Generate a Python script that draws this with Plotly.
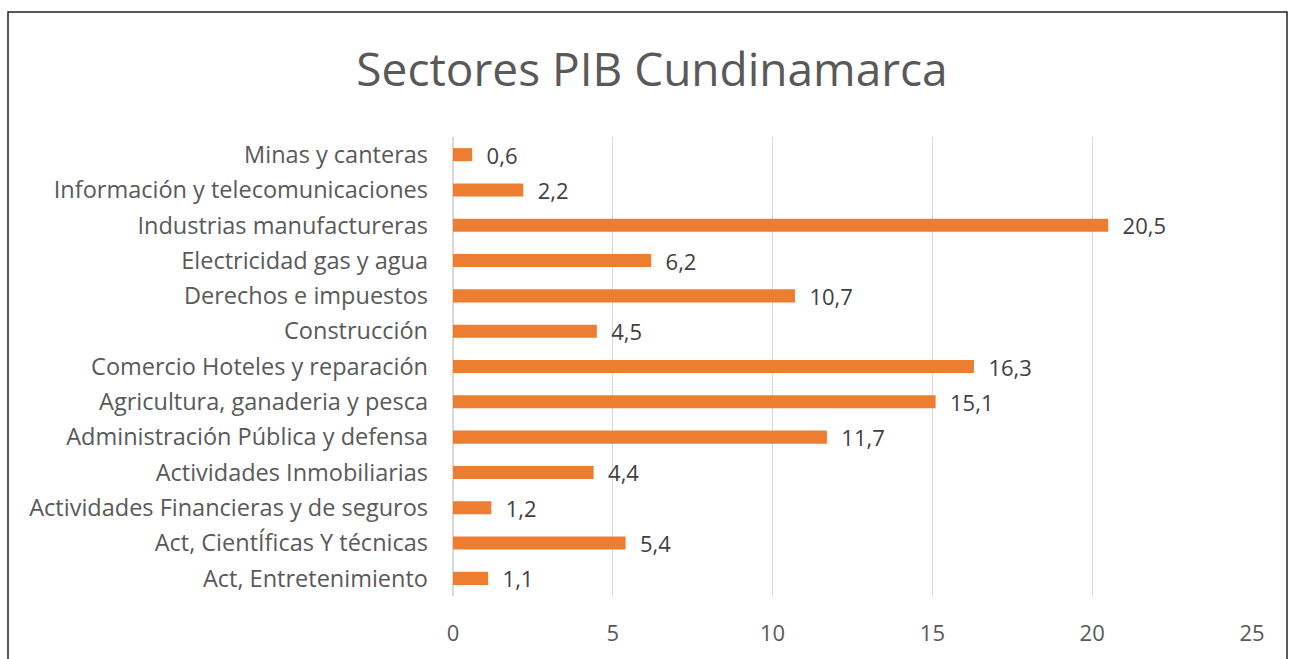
import plotly.graph_objects as go

categories = [
    "Act, Entretenimiento",
    "Act, CientÍficas Y técnicas",
    "Actividades Financieras y de seguros",
    "Actividades Inmobiliarias",
    "Administración Pública y defensa",
    "Agricultura, ganaderia y pesca",
    "Comercio Hoteles y reparación",
    "Construcción",
    "Derechos e impuestos",
    "Electricidad gas y agua",
    "Industrias manufactureras",
    "Información y telecomunicaciones",
    "Minas y canteras",
]
values = [1.1, 5.4, 1.2, 4.4, 11.7, 15.1, 16.3, 4.5, 10.7, 6.2, 20.5, 2.2, 0.6]
tick_vals = [0, 5, 10, 15, 20, 25]

FONT = "Open Sans"
W, H = 1289, 659
L, R, T, B = 453, 37, 137, 63
pw, ph = W - L - R, H - T - B

fig = go.Figure(
    go.Bar(
        x=values,
        y=categories,
        orientation="h",
        marker=dict(color="#ED7D31", line=dict(width=0)),
        width=0.37,
        texttemplate="\u00a0\u00a0%{x:.1f}",
        textposition="outside",
        constraintext="none",
        textfont=dict(family=FONT, size=22, color="#404040"),
        cliponaxis=False,
        hoverinfo="skip",
    )
)

fig.update_layout(
    width=W,
    height=H,
    margin=dict(l=L, r=R, t=T, b=B),
    paper_bgcolor="white",
    plot_bgcolor="white",
    separators=",.",
    showlegend=False,
    title=dict(
        text="Sectores PIB Cundinamarca",
        x=652 / W,
        xref="container",
        xanchor="center",
        y=1 - 70 / H,
        yref="container",
        yanchor="middle",
        font=dict(family=FONT, size=46, color="#595959"),
    ),
    xaxis=dict(
        range=[0, 25],
        tickvals=tick_vals,
        showgrid=True,
        gridcolor="#D9D9D9",
        gridwidth=1.3,
        zeroline=True,
        zerolinecolor="#D9D9D9",
        zerolinewidth=1.3,
        showline=False,
        ticks="",
        ticklabelstandoff=22,
        tickfont=dict(family=FONT, size=22, color="#595959"),
        fixedrange=True,
    ),
    yaxis=dict(
        categoryorder="array",
        categoryarray=categories,
        showgrid=False,
        showline=False,
        ticks="",
        ticklabelstandoff=24,
        tickfont=dict(family=FONT, size=23.5, color="#595959"),
        fixedrange=True,
    ),
    shapes=[
        dict(
            type="rect",
            xref="paper",
            yref="paper",
            x0=(8 - L) / pw,
            x1=(1287 - L) / pw,
            y0=-0.3,
            y1=(H - B - 12) / ph,
            line=dict(color="#222222", width=1.5),
            fillcolor="rgba(0,0,0,0)",
            layer="below",
        )
    ],
)

fig.write_html(
    "out.html",
    config={"displayModeBar": False, "staticPlot": True},
    post_script="document.body.style.margin='0';document.body.style.overflow='hidden';",
)
